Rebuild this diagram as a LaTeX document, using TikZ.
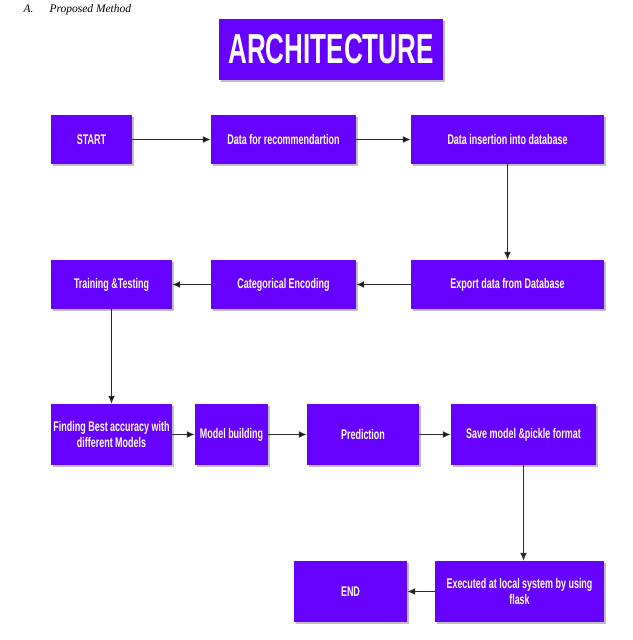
\documentclass[tikz,border=0pt]{standalone}
\usepackage{fontspec}
\setmainfont{Liberation Serif}
\newfontfamily\narrowfont[FakeStretch=0.64]{Liberation Sans}
\newfontfamily\titlefont[FakeStretch=0.62]{Liberation Sans}
\usetikzlibrary{arrows.meta,shadows}
\definecolor{boxviolet}{HTML}{6600FF}
\definecolor{arrowgray}{HTML}{2B2B2B}
\begin{document}
\begin{tikzpicture}[x=1pt,y=-1pt,
		box/.style={fill=boxviolet,text=white,inner sep=2pt,align=center,
			font=\narrowfont\bfseries\fontsize{14}{16}\selectfont,
			drop shadow={shadow xshift=1.5pt,shadow yshift=-1.5pt,fill=black,opacity=0.25}},
		>={Latex[length=8pt,width=7pt]}]
		\useasboundingbox (0,0) rectangle (632,640);
		\node[anchor=west,font=\itshape\fontsize{11.5}{13}\selectfont] (sec) at (20,10) {A.\hspace{1.4em}Proposed Method};
		\node[box,minimum width=224pt,minimum height=61pt,font=\titlefont\bfseries\fontsize{42}{46}\selectfont] (arch) at (331,49.5) {ARCHITECTURE};
		% first row
		\node[box,minimum width=81pt,minimum height=49pt] (start) at (91.5,139.5) {START};
		\node[box,minimum width=145pt,minimum height=49pt] (datarec) at (283.5,139.5) {Data for recommendartion};
		\node[box,minimum width=193pt,minimum height=49pt] (datains) at (507.5,139.5) {Data insertion into database};
		% second row
		\node[box,minimum width=193pt,minimum height=49pt] (export) at (507.5,284.5) {Export data from Database};
		\node[box,minimum width=145pt,minimum height=49pt] (catenc) at (283.5,284.5) {Categorical Encoding};
		\node[box,minimum width=121pt,minimum height=49pt] (train) at (111.5,284.5) {Training \&Testing};
		% third row
		\node[box,minimum width=121pt,minimum height=61pt] (best) at (111.5,434.5) {Finding Best accuracy with\\different Models};
		\node[box,minimum width=73pt,minimum height=61pt] (model) at (231.5,434.5) {Model building};
		\node[box,minimum width=112pt,minimum height=61pt] (pred) at (363,434.5) {Prediction};
		\node[box,minimum width=145pt,minimum height=61pt] (save) at (523.5,434.5) {Save model \&pickle format};
		% last row
		\node[box,minimum width=169pt,minimum height=61pt] (exec) at (519.5,591.5) {Executed at local system by using\\flask};
		\node[box,minimum width=113pt,minimum height=61pt] (finish) at (350.5,591.5) {END};
		\path[->,draw=arrowgray,line width=1.3pt] (start) edge (datarec)
			(datarec) edge (datains)
			(datains) edge (export)
			(export) edge (catenc)
			(catenc) edge (train)
			(train) edge (best)
			(best) edge (model)
			(model) edge (pred)
			(pred) edge (save)
			(exec) edge (finish);
		\draw[->,arrowgray,line width=1.3pt] (save.south) -- (save.south |- exec.north);
	\end{tikzpicture}
\end{document}
